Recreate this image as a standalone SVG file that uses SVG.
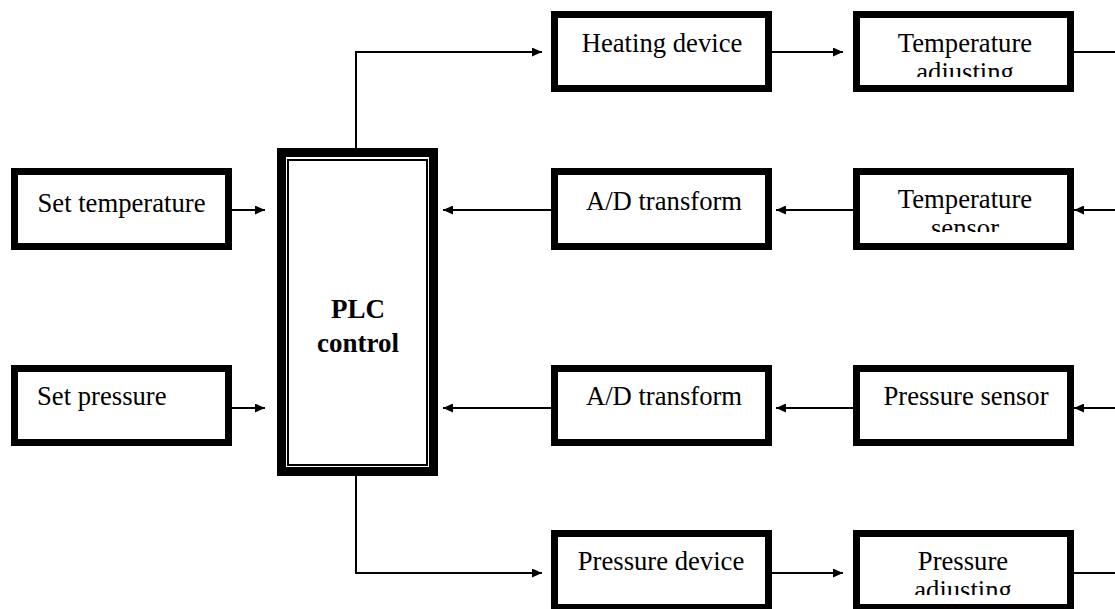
<svg xmlns="http://www.w3.org/2000/svg" width="1115" height="609" viewBox="0 0 1115 609">
<style>
.box{fill:#fff;stroke:#000;stroke-width:7}
.t{font-family:"Liberation Serif","Times New Roman",serif;font-size:26.67px;fill:#000}
.c{text-anchor:middle}
.b{font-weight:bold;font-size:27px}
.ln{fill:none;stroke:#000;stroke-width:2}
</style>
<defs>
<marker id="ah" markerUnits="userSpaceOnUse" markerWidth="10" markerHeight="9" refX="10" refY="4.5" orient="auto">
<path d="M0,0 L10,4.5 L0,9 z" fill="#000"/>
</marker>
<clipPath id="c1" clipPathUnits="userSpaceOnUse"><rect x="855" y="10" width="215" height="67"/></clipPath>
<clipPath id="c2" clipPathUnits="userSpaceOnUse"><rect x="855" y="168" width="215" height="64"/></clipPath>
<clipPath id="c3" clipPathUnits="userSpaceOnUse"><rect x="855" y="530" width="215" height="65"/></clipPath>
</defs>
<rect width="1115" height="609" fill="#fff"/>
<g id="connectors">
<path class="ln" d="M356 148 V52 H542" marker-end="url(#ah)"/>
<path class="ln" d="M772 52 H843" marker-end="url(#ah)"/>
<path class="ln" d="M1074 52 H1115"/>
<path class="ln" d="M1115 210 H1074" marker-end="url(#ah)"/>
<path class="ln" d="M853 210 H776" marker-end="url(#ah)"/>
<path class="ln" d="M551 210 H443" marker-end="url(#ah)"/>
<path class="ln" d="M232 210 H265" marker-end="url(#ah)"/>
<path class="ln" d="M232 408 H265" marker-end="url(#ah)"/>
<path class="ln" d="M551 408 H443" marker-end="url(#ah)"/>
<path class="ln" d="M853 408 H776" marker-end="url(#ah)"/>
<path class="ln" d="M1115 408 H1074" marker-end="url(#ah)"/>
<path class="ln" d="M356 476 V573 H542" marker-end="url(#ah)"/>
<path class="ln" d="M772 573 H843" marker-end="url(#ah)"/>
<path class="ln" d="M1074 573 H1115"/>
</g>
<g id="plc">
<rect x="281.5" y="152.5" width="152" height="319" fill="#fff" stroke="#000" stroke-width="9"/>
<rect x="288" y="160" width="139" height="305" fill="none" stroke="#000" stroke-width="2"/>
<text class="t c b" x="358" y="318">PLC</text>
<text class="t c b" x="358" y="352">control</text>
</g>
<g id="set-temperature">
<rect class="box" x="14.5" y="171.5" width="214" height="75"/>
<text class="t c" x="121.5" y="212">Set temperature</text>
</g>
<g id="set-pressure">
<rect class="box" x="14.5" y="368.5" width="214" height="74"/>
<text class="t" x="37" y="405">Set pressure</text>
</g>
<g id="heating-device">
<rect class="box" x="554.5" y="14.5" width="214" height="74"/>
<text class="t c" x="662" y="52">Heating device</text>
</g>
<g id="ad-transform-1">
<rect class="box" x="554.5" y="171.5" width="214" height="75"/>
<text class="t c" x="664" y="210">A/D transform</text>
</g>
<g id="ad-transform-2">
<rect class="box" x="554.5" y="368.5" width="214" height="74"/>
<text class="t c" x="664" y="405">A/D transform</text>
</g>
<g id="pressure-device">
<rect class="box" x="554.5" y="533.5" width="214" height="74"/>
<text class="t c" x="661" y="570">Pressure device</text>
</g>
<g id="temperature-adjusting">
<rect class="box" x="856.5" y="14.5" width="214" height="74"/>
<g clip-path="url(#c1)">
<text class="t c" x="965" y="52">Temperature</text>
<text class="t c" x="965" y="81">adjusting</text>
</g>
</g>
<g id="temperature-sensor">
<rect class="box" x="856.5" y="171.5" width="214" height="75"/>
<g clip-path="url(#c2)">
<text class="t c" x="965" y="208">Temperature</text>
<text class="t c" x="965" y="237">sensor</text>
</g>
</g>
<g id="pressure-sensor">
<rect class="box" x="856.5" y="368.5" width="214" height="74"/>
<text class="t c" x="966" y="405">Pressure sensor</text>
</g>
<g id="pressure-adjusting">
<rect class="box" x="856.5" y="533.5" width="214" height="74"/>
<g clip-path="url(#c3)">
<text class="t c" x="963" y="570">Pressure</text>
<text class="t c" x="963" y="599">adjusting</text>
</g>
</g>
</svg>
